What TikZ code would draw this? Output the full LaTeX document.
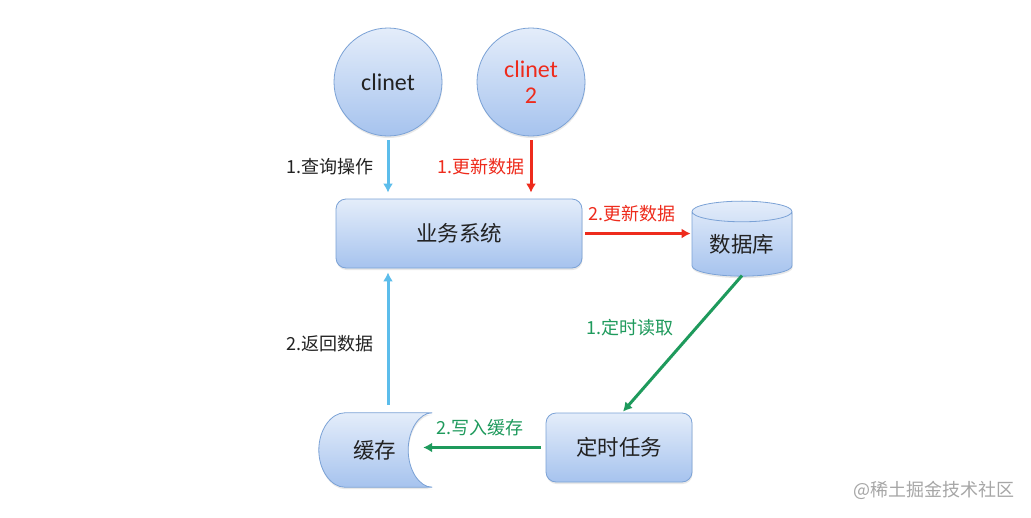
\documentclass[tikz,border=0pt]{standalone}
\usepackage{fontspec}
\setmainfont{Carlito}
\newfontfamily\cjk{Noto Sans CJK SC}
\usetikzlibrary{shapes.geometric,arrows.meta,shadows}
\definecolor{fillT}{HTML}{E4EDFA}
\definecolor{fillB}{HTML}{A6C3EE}
\definecolor{edgeC}{HTML}{7BA2D6}
\definecolor{cblue}{HTML}{5CBDEB}
\definecolor{cred}{HTML}{EE2B1C}
\definecolor{cgreen}{HTML}{1E9A5C}
\definecolor{txt}{HTML}{222222}
\begin{document}
\begin{tikzpicture}[x=1pt,y=-1pt,
  shapefill/.style={top color=fillT,bottom color=fillB,draw=edgeC,line width=0.8pt,
    drop shadow={opacity=0.18,shadow xshift=0.5pt,shadow yshift=-2pt}},
  bigtxt/.style={font=\cjk\fontsize{21.5}{25}\selectfont,text=txt},
  bx/.style={shapefill,rounded corners=10pt,bigtxt,inner sep=0pt},
  circ/.style={shapefill,circle,minimum size=108pt,inner sep=0pt,align=center,
    font=\fontsize{24}{25}\selectfont},
  lbl/.style={font=\cjk\fontsize{18}{21}\selectfont,inner sep=0pt},
  arr/.style={line width=3pt,-{Latex[length=9pt,width=10pt]}}]
\fill[white] (0,0) rectangle (1031,517);
\useasboundingbox (0,0) rectangle (1031,517);

% nodes
\node[circ,text=txt] (c1) at (388,82) {clinet};
\node[circ,text=cred] (c2) at (531,82) {clinet\\[1pt]2};
\node[bx,minimum width=246pt,minimum height=69pt] (biz) at (459,233.5) {业务系统};
\node[shapefill,cylinder,shape border rotate=90,aspect=0.32,minimum width=100pt,minimum height=75pt,
  inner sep=0pt,bigtxt] (db) at (742,244) {\raisebox{-7pt}{数据库}};
\node[bx,minimum width=146pt,minimum height=69pt] (timer) at (619,447.5) {定时任务};
\node[minimum width=113pt,minimum height=74pt,inner sep=0pt] (cache) at (375.5,450) {};
\path[shapefill] ([xshift=26pt]cache.north west) -- (cache.north east)
  .. controls ([xshift=-13pt]cache.north east) and ([xshift=-24pt,yshift=20pt]cache.east) .. ([xshift=-24pt]cache.east)
  .. controls ([xshift=-24pt,yshift=-20pt]cache.east) and ([xshift=-13pt]cache.south east) .. (cache.south east)
  -- ([xshift=26pt]cache.south west)
  .. controls ([xshift=12pt]cache.south west) and ([yshift=-20pt]cache.west) .. (cache.west)
  .. controls ([yshift=20pt]cache.west) and ([xshift=12pt]cache.north west) .. ([xshift=26pt]cache.north west) -- cycle;
\node[bigtxt] (cachetxt) at ([xshift=-1pt]cache.center) {缓存};

% connectors
\draw[arr,cblue] ([yshift=-4pt]c1.south) -- ([yshift=6pt]c1.south |- biz.north);
\draw[arr,cred] ([yshift=-4pt]c2.south) -- ([yshift=6pt]c2.south |- biz.north);
\draw[arr,cred] ([xshift=3pt]biz.east) -- ([xshift=-1pt]db.west |- biz.east);
\draw[arr,cgreen] ([yshift=1pt]db.south) -- ([xshift=4pt,yshift=1pt]timer.north);
\draw[arr,cgreen] ([xshift=-5pt]timer.west) -- ([xshift=-9pt]cache.east |- timer.west);
\draw[arr,cblue] ([yshift=8pt]c1.south |- cache.north) -- ([yshift=-4pt]c1.south |- biz.south);

% labels
\node[lbl,text=txt] (l1) at (330,167) {1.查询操作};
\node[lbl,text=cred] (l2) at (481,167) {1.更新数据};
\node[lbl,text=cred] (l3) at (632,214) {2.更新数据};
\node[lbl,text=cgreen] (l4) at (630,328) {1.定时读取};
\node[lbl,text=cgreen] (l5) at (480,428) {2.写入缓存};
\node[lbl,text=txt] (l6) at (330,344) {2.返回数据};
\node[lbl,text=black!35] (wm) at (934,490) {@稀土掘金技术社区};
\end{tikzpicture}
\end{document}
